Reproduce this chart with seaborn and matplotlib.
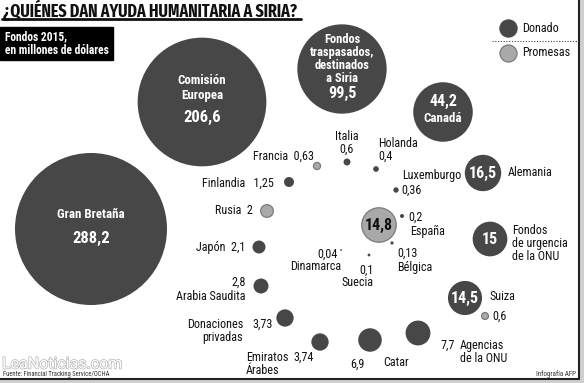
import numpy as np
import pandas as pd
import seaborn as sns
import matplotlib.pyplot as plt
import matplotlib.patheffects as pe

sns.set_theme(style="white")
plt.rcParams['font.family'] = ['Roboto Condensed', 'DejaVu Sans']

# data: donors, amounts (millions USD, 2015), donated vs pledged
donors = ["Gran Bretaña", "Comisión Europea", "Fondos traspasados", "Canadá", "Alemania",
          "Fondos de urgencia ONU", "Suiza", "Suiza (promesa)", "Agencias de la ONU", "Catar",
          "Emiratos Árabes", "Donaciones privadas", "Arabia Saudita", "Japón", "Rusia",
          "Finlandia", "Francia", "Italia", "Holanda", "Luxemburgo", "España",
          "Promesas 14,8", "Bélgica", "Suecia", "Dinamarca"]
values = [288.2, 206.6, 99.5, 44.2, 16.5, 15, 14.5, 0.6, 7.7, 6.9, 3.74, 3.73, 2.8, 2.1, 2,
          1.25, 0.63, 0.6, 0.4, 0.36, 0.2, 14.8, 0.13, 0.1, 0.04]
kinds = ["Donado"] * 7 + ["Promesas"] + ["Donado"] * 6 + ["Promesas", "Donado", "Promesas"] \
    + ["Donado"] * 4 + ["Promesas"] + ["Donado"] * 3

# bubble layout (pixel space)
pos_x = [91, 202, 342, 443, 483, 490, 465, 485, 418, 370, 320, 285, 261, 259, 267,
         289, 317, 347, 376, 396, 402, 379, 392, 369, 341]
pos_y = [229, 102, 69, 112, 173, 239, 298, 316, 333, 340, 342, 318, 286, 247, 211,
         182, 166, 162, 169, 190, 216, 225, 243, 255, 250]

df = pd.DataFrame({"donor": donors, "value": values, "kind": kinds, "x": pos_x, "y": pos_y})

DARK = "#474747"
LIGHT = "#a9a9a9"
EDGE = "#7a7a7a"


def fmt(v):
    return f"{v:g}".replace(".", ",")


fig = plt.figure(figsize=(5.84, 3.83), dpi=100)
ax = fig.add_axes([0, 0, 1, 1])

# area proportional to value
smax = 41.56 * max(values)
sns.scatterplot(data=df[df.kind == "Donado"], x="x", y="y", size="value",
                sizes=(0, smax), size_norm=(0, max(values)), color=DARK,
                edgecolor=DARK, linewidth=0, legend=False, ax=ax, zorder=3)
sns.scatterplot(data=df[df.kind == "Promesas"], x="x", y="y", size="value",
                sizes=(0, smax), size_norm=(0, max(values)), color=LIGHT,
                edgecolor=EDGE, linewidth=0.9, legend=False, ax=ax, zorder=3)

ax.set_xlim(0, 584)
ax.set_ylim(383, 0)
ax.axis("off")

v = dict(zip(donors, values))
FS = 8.7
W = dict(color="white", fontweight="bold", ha="center", va="center", zorder=5)
K = dict(color="#111111", fontsize=FS, va="center", zorder=5)

# labels inside big bubbles
ax.text(91, 214, "Gran Bretaña", fontsize=9.3, **W)
ax.text(91, 238, fmt(v["Gran Bretaña"]), fontsize=12, **W)
ax.text(202, 88, "Comisión\nEuropea", fontsize=9.3, linespacing=1.3, **W)
ax.text(202, 117, fmt(v["Comisión Europea"]), fontsize=12, **W)
ax.text(342, 59, "Fondos\ntraspasados,\ndestinados\na Siria", fontsize=9, linespacing=1.0, **W)
ax.text(342, 93, fmt(v["Fondos traspasados"]), fontsize=11.5, **W)
ax.text(443, 101, fmt(v["Canadá"]), fontsize=11.5, **W)
ax.text(443, 119, "Canadá", fontsize=9.3, **W)
ax.text(483, 173, fmt(v["Alemania"]), fontsize=11.5, **W)
ax.text(490, 239, fmt(v["Fondos de urgencia ONU"]), fontsize=11.5, **W)
ax.text(465, 298, fmt(v["Suiza"]), fontsize=11.5, **W)
ax.text(379, 225, fmt(v["Promesas 14,8"]), fontsize=11.5, color="#111111", fontweight="bold",
        ha="center", va="center", zorder=5)

# outside labels
ax.text(508, 173, "Alemania", ha="left", **K)
ax.text(512, 244, "Fondos\nde urgencia\nde la ONU", ha="left", linespacing=1.0, **K)
ax.text(489, 297, "Suiza", ha="left", **K)
ax.text(492, 316, fmt(v["Suiza (promesa)"]), ha="left", **K)
ax.text(440, 345, fmt(v["Agencias de la ONU"]), ha="left", **K)
ax.text(460, 352, "Agencias\nde la ONU", ha="left", linespacing=1.0, **K)
ax.text(357, 364, fmt(v["Catar"]), ha="center", **K)
ax.text(383, 363, "Catar", ha="left", **K)
ax.text(246, 364, "Emiratos\nÁrabes", ha="left", linespacing=1.0, **K)
ax.text(293, 357, fmt(v["Emiratos Árabes"]), ha="left", **K)
ax.text(243, 331, "Donaciones\nprivadas", ha="right", linespacing=1.0, **K)
ax.text(252, 324, fmt(v["Donaciones privadas"]), ha="left", **K)
ax.text(246, 282, fmt(v["Arabia Saudita"]), ha="right", **K)
ax.text(246, 297, "Arabia Saudita", ha="right", **K)
ax.text(245, 247, "Japón  " + fmt(v["Japón"]), ha="right", **K)
ax.text(253, 211, "Rusia  " + fmt(v["Rusia"]), ha="right", **K)
ax.text(274, 183, "Finlandia   " + fmt(v["Finlandia"]), ha="right", **K)
ax.text(314, 156, "Francia  " + fmt(v["Francia"]), ha="right", **K)
ax.text(347, 143, "Italia\n" + fmt(v["Italia"]), ha="center", linespacing=1.0, **K)
ax.text(378, 150, "Holanda\n" + fmt(v["Holanda"]), ha="left", linespacing=1.0, **K)
ax.text(461, 176, "Luxemburgo", ha="right", **K)
ax.text(401, 190, fmt(v["Luxemburgo"]), ha="left", **K)
ax.text(408, 217, fmt(v["España"]), ha="left", **K)
ax.text(410, 231, "España", ha="left", **K)
ax.text(397, 253, fmt(v["Bélgica"]), ha="left", **K)
ax.text(397, 267, "Bélgica", ha="left", **K)
ax.text(367, 270, fmt(v["Suecia"]), ha="center", **K)
ax.text(358, 282, "Suecia", ha="center", **K)
ax.text(338, 254, fmt(v["Dinamarca"]), ha="right", **K)
ax.text(316, 266, "Dinamarca", ha="center", **K)

# title
ax.text(3, 10, "¿QUIÉNES DAN AYUDA HUMANITARIA A SIRIA?", fontsize=12.5, fontweight="bold",
        color="#111111", ha="left", va="center",
        family=["Fira Sans Extra Condensed", "Roboto Condensed"])
ax.plot([2, 301], [19, 19], color="#111111", lw=2)

# black box with subtitle
ax.add_patch(plt.Rectangle((0, 27), 113, 33, color="black", zorder=4))
ax.text(5, 43.5, "Fondos 2015,\nen millones de dólares", color="white", fontsize=8.3,
        fontweight="bold", ha="left", va="center", linespacing=1.15, zorder=5)

# legend
ax.scatter([508], [28], s=150, color=DARK, zorder=5)
ax.scatter([508], [53], s=150, color=LIGHT, edgecolor=EDGE, linewidth=0.9, zorder=5)
ax.text(522, 28, "Donado", ha="left", **K)
ax.text(522, 53, "Promesas", ha="left", **K)
ax.plot([492, 579], [41, 41], color="#444444", lw=0.8, ls=(0, (1, 1.5)))

# footer
wm = ax.text(2, 364, "LeaNoticias.com", fontsize=11.5, color="white", ha="left", va="center",
             family="Roboto", zorder=6)
wm.set_path_effects([pe.withStroke(linewidth=1, foreground="#b5b5b5")])
ax.text(3, 375, "Fuente: Financial Tracking Service/OCHA", fontsize=4.8, color="#333333",
        ha="left", va="center", zorder=7)
ax.text(576, 374, "Infografía AFP", fontsize=5, color="#333333", ha="right", va="center")

# frame with shadow
ax.add_patch(plt.Rectangle((580, 0), 4, 383, color="#cfcfcf", zorder=1))
ax.add_patch(plt.Rectangle((0, 380), 584, 3, color="#cfcfcf", zorder=1))
ax.plot([579, 579], [0, 379], color="#222222", lw=1.5)
ax.plot([0, 579], [379, 379], color="#222222", lw=1.5)

fig.savefig("out.png", dpi=100)
